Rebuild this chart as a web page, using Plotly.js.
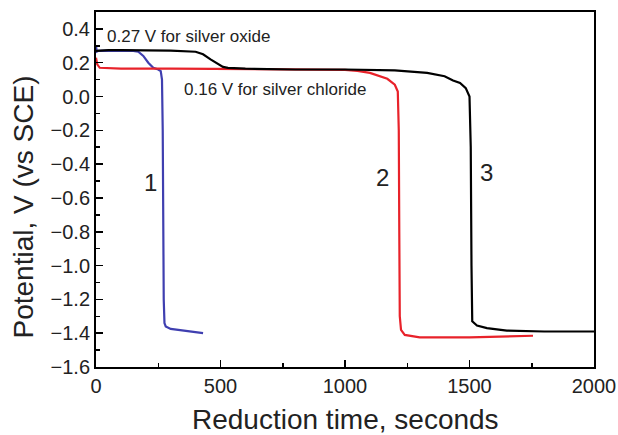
<!DOCTYPE html>
<html>
<head>
<meta charset="utf-8">
<script src="https://cdn.plot.ly/plotly-3.0.1.min.js"></script>
<style>html,body{margin:0;padding:0;background:#fff;}#chart{width:618px;height:435px;}</style>
</head>
<body>
<div id="chart"></div>
<script>
// Curve 1 (blue)
const t1 = [0, 3, 10, 50, 100, 150, 170, 190, 210, 230, 250, 260, 265, 268, 270, 272, 275, 280, 300, 350, 400, 430];
const v1 = [0.30, 0.265, 0.27, 0.272, 0.272, 0.27, 0.265, 0.24, 0.20, 0.17, 0.16, 0.15, 0.10, -0.20, -0.80, -1.20, -1.34, -1.36, -1.375, -1.385, -1.395, -1.40];
// Curve 2 (red)
const t2 = [0, 5, 15, 100, 300, 500, 700, 900, 1000, 1050, 1100, 1170, 1200, 1212, 1216, 1218, 1220, 1225, 1240, 1300, 1500, 1755];
const v2 = [0.23, 0.19, 0.17, 0.165, 0.165, 0.163, 0.162, 0.16, 0.158, 0.152, 0.14, 0.105, 0.07, 0.03, -0.2, -0.8, -1.3, -1.38, -1.41, -1.425, -1.425, -1.415];
// Curve 3 (black)
const t3 = [0, 50, 100, 200, 300, 400, 430, 460, 490, 510, 530, 600, 800, 1000, 1200, 1330, 1400, 1434, 1462, 1485, 1500, 1505, 1508, 1511, 1530, 1570, 1650, 1800, 2000];
const v3 = [0.27, 0.275, 0.275, 0.275, 0.272, 0.265, 0.25, 0.22, 0.19, 0.175, 0.17, 0.165, 0.16, 0.16, 0.155, 0.14, 0.12, 0.095, 0.08, 0.05, 0.0, -0.3, -1.0, -1.33, -1.355, -1.37, -1.385, -1.39, -1.39];

const curveLabels = ["1", "2", "3"];
const labelX = [217, 1149, 1570];
const labelY = [-0.51, -0.48, -0.45];
const noteText = ["0.27 V for silver oxide", "0.16 V for silver chloride"];
const noteX = [36, 345];
const noteY = [0.355, 0.04];
const xTitle = "Reduction time, seconds";
const yTitle = "Potential, V (vs SCE)";

const FONT = 'Liberation Sans, Arial, sans-serif';
const traces = [
  {x: t1, y: v1, mode: 'lines', line: {color: '#3f3fb0', width: 2.2}},
  {x: t2, y: v2, mode: 'lines', line: {color: '#e8222a', width: 2.2}},
  {x: t3, y: v3, mode: 'lines', line: {color: '#000000', width: 2.2}}
];

const annotations = [];
for (let i = 0; i < curveLabels.length; i++) {
  annotations.push({x: labelX[i], y: labelY[i], text: curveLabels[i], showarrow: false,
    font: {family: FONT, size: 24, color: '#222'}});
}
for (let i = 0; i < noteText.length; i++) {
  annotations.push({x: noteX[i], y: noteY[i], text: noteText[i], showarrow: false, xanchor: 'left',
    font: {family: FONT, size: 17, color: '#222'}});
}
annotations.push({xref: 'paper', yref: 'paper', x: 0.5, y: -0.149, xanchor: 'center', yanchor: 'middle',
  text: xTitle, showarrow: false, font: {family: FONT, size: 28, color: '#222'}});
annotations.push({xref: 'paper', yref: 'paper', x: -0.1446, y: 0.452, xanchor: 'center', yanchor: 'middle',
  textangle: -90, text: yTitle, showarrow: false, font: {family: FONT, size: 28, color: '#222'}});

const layout = {
  width: 618, height: 435,
  margin: {l: 96, r: 24, t: 12, b: 68},
  paper_bgcolor: '#fff', plot_bgcolor: '#fff',
  showlegend: false,
  font: {family: FONT, color: '#222'},
  xaxis: {
    range: [0, 2000], tickvals: [0, 500, 1000, 1500, 2000],
    ticks: 'inside', ticklen: 7, tickwidth: 1.5, tickcolor: '#000',
    minor: {dtick: 250, ticks: 'inside', ticklen: 4, tickcolor: '#000', tickwidth: 1.5},
    showline: true, linecolor: '#000', linewidth: 2, mirror: true,
    showgrid: false, zeroline: false,
    tickfont: {family: FONT, size: 20, color: '#222'}
  },
  yaxis: {
    range: [-1.6, 0.5], tickvals: [-1.6, -1.4, -1.2, -1.0, -0.8, -0.6, -0.4, -0.2, 0.0, 0.2, 0.4],
    tickformat: '.1f',
    ticks: 'inside', ticklen: 7, tickwidth: 1.5, tickcolor: '#000',
    minor: {dtick: 0.1, ticks: 'inside', ticklen: 4, tickcolor: '#000', tickwidth: 1.5},
    showline: true, linecolor: '#000', linewidth: 2, mirror: true,
    showgrid: false, zeroline: false,
    tickfont: {family: FONT, size: 20, color: '#222'}
  },
  annotations: annotations
};

Plotly.newPlot('chart', traces, layout, {displayModeBar: false, staticPlot: true});
</script>
</body>
</html>
